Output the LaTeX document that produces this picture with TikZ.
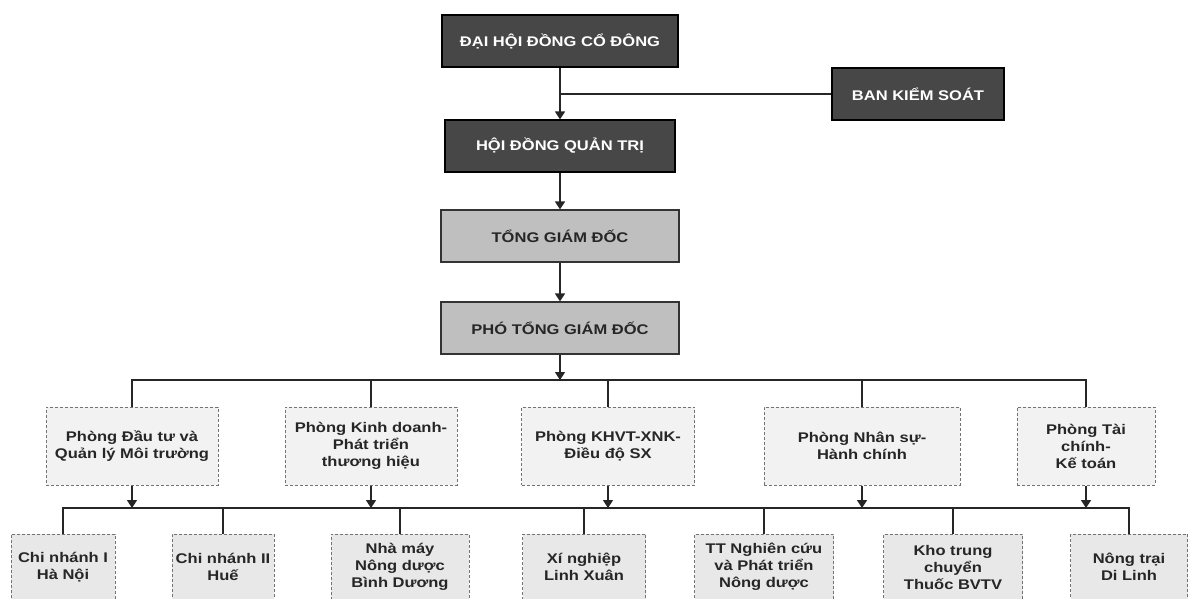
\documentclass[tikz,border=0pt]{standalone}
\usepackage{fontspec}
\setmainfont{Liberation Sans}[FakeStretch=1.18]
\usetikzlibrary{arrows.meta}
\begin{document}
\begin{tikzpicture}[x=1pt, y=-1pt,
  every node/.style={font=\bfseries\fontsize{14}{17}\selectfont, align=center, inner sep=2pt},
  darkbox/.style={rectangle, draw=black, line width=1.2pt, fill=black!72, text=white, minimum height=52pt},
  greybox/.style={rectangle, draw=black!80, line width=1.2pt, fill=black!25, text=black!85, minimum height=52pt},
  deptbox/.style={rectangle, draw=black!55, densely dashed, line width=1pt, fill=black!5, text=black!85, minimum height=78pt},
  unitbox/.style={rectangle, draw=black!55, densely dashed, line width=1pt, fill=black!9, text=black!85, minimum height=66pt},
  link/.style={line width=1.6pt, black!85},
  arr/.style={link, -{Triangle[length=8pt, width=10pt]}}]
  \clip (0,0) rectangle (1188,599);
  \fill[white] (0,0) rectangle (1188,599);

  \node[darkbox, minimum width=236pt] (dhd) at (560,41) {ĐẠI HỘI ĐỒNG CỔ ĐÔNG};
  \node[darkbox, minimum width=172pt] (bks) at (918,94) {BAN KIỂM SOÁT};
  \node[darkbox, minimum width=230pt] (hdqt) at (560,146) {HỘI ĐỒNG QUẢN TRỊ};
  \node[greybox, minimum width=238pt] (tgd) at (560,236) {TỔNG GIÁM ĐỐC};
  \node[greybox, minimum width=238pt] (ptgd) at (560,328) {PHÓ TỔNG GIÁM ĐỐC};

  \coordinate (j1) at (560,94);
  \draw[arr] (dhd) -- (hdqt);
  \draw[link] (bks) -- (j1);
  \draw[arr] (hdqt) -- (tgd);
  \draw[arr] (tgd) -- (ptgd);

  \node[deptbox, minimum width=172pt] (d1) at (132,446) {Phòng Đầu tư và\\Quản lý Môi trường};
  \node[deptbox, minimum width=172pt] (d2) at (371,446) {Phòng Kinh doanh-\\Phát triển\\thương hiệu};
  \node[deptbox, minimum width=173pt] (d3) at (608,446) {Phòng KHVT-XNK-\\Điều độ SX};
  \node[deptbox, minimum width=196pt] (d4) at (862,446) {Phòng Nhân sự-\\Hành chính};
  \node[deptbox, minimum width=138pt] (d5) at (1086,446) {Phòng Tài\\chính-\\Kế toán};

  \coordinate (bus1) at (560,380);
  \coordinate (bus2) at (560,508);
  \draw[arr] (ptgd) -- (bus1);
  \draw[link] (d1.north) |- (bus1) -| (d5.north);
  \foreach \d in {d2,d3,d4}
    \draw[link] (\d.north) -- (\d.north |- bus1);
  \foreach \d in {d1,d2,d3,d4,d5}
    \draw[arr] (\d.south) -- (\d.south |- bus2);

  \node[unitbox, minimum width=104pt] (u1) at (63,567) {Chi nhánh I\\Hà Nội};
  \node[unitbox, minimum width=102pt] (u2) at (223,567) {Chi nhánh II\\Huế};
  \node[unitbox, minimum width=138pt] (u3) at (400,567) {Nhà máy\\Nông dược\\Bình Dương};
  \node[unitbox, minimum width=123pt] (u4) at (584,567) {Xí nghiệp\\Linh Xuân};
  \node[unitbox, minimum width=139pt] (u5) at (764,567) {TT Nghiên cứu\\và Phát triển\\Nông dược};
  \node[unitbox, minimum width=139pt] (u6) at (953,567) {Kho trung\\chuyển\\Thuốc BVTV};
  \node[unitbox, minimum width=117pt] (u7) at (1129,567) {Nông trại\\Di Linh};

  \draw[link] (u1.north) |- (bus2) -| (u7.north);
  \foreach \u in {u2,u3,u4,u5,u6}
    \draw[link] (\u.north) -- (\u.north |- bus2);
\end{tikzpicture}
\end{document}
